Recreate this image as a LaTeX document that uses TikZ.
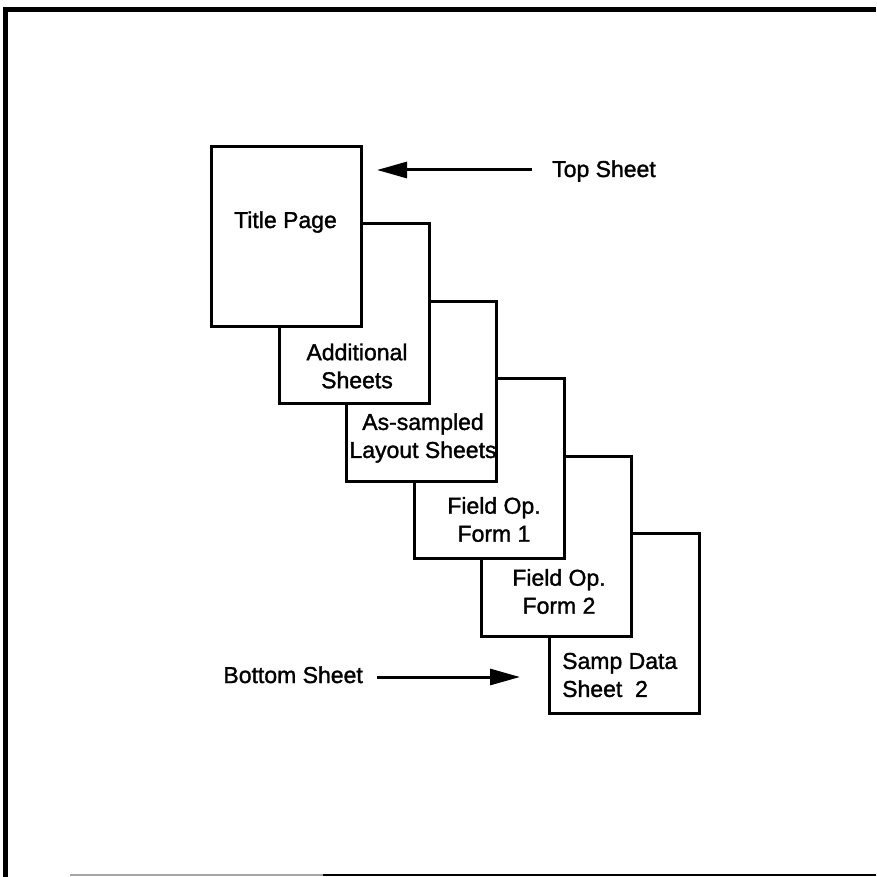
\documentclass[tikz,border=0pt]{standalone}
\usepackage{fontspec}
\setmainfont{Liberation Sans}
\newfontfamily\scanfont{Liberation Sans}[FakeBold=1.4]
\usepackage{tikz}
\usetikzlibrary{arrows.meta, positioning, calc}
\tikzset{
  % One paper sheet of the stack
  sheet/.style={
    rectangle, draw=black, line width=3pt, fill=white,
    minimum width=150pt, minimum height=180pt,
    inner sep=0pt, anchor=north west
  },
  % Text printed on a sheet
  sheetlbl/.style={
    align=center, inner sep=0pt,
    font=\scanfont\fontsize{23}{28}\selectfont
  },
  % Pointer arrows
  arr/.style={-{Triangle[length=30pt,width=16pt]}, line width=3pt},
  % Outer frame
  boxframe/.style={line width=5pt},
}

\begin{document}
\begin{tikzpicture}[x=1pt, y=-1pt]
  \useasboundingbox (0,0) rectangle (876,877);

  %% Outer frame
  \draw[boxframe] (5,877) -- (5,10) -- (876,10);
  \draw[line width=2pt, black!35] (70,875) -- (323,875);
  \draw[line width=2pt] (323,875) -- (876,875);

  %% Sheets, bottom of the stack first
  \node[sheet] (samp)   at (548,532)     {};
  \node[sheet] (fop2)   at (480.4,454.6) {};
  \node[sheet] (fop1)   at (412.8,377.2) {};
  \node[sheet] (layout) at (345.2,299.8) {};
  \node[sheet] (addl)   at (277.6,222.4) {};
  \node[sheet] (title)  at (210,145)     {};

  %% Sheet labels
  \node[sheetlbl, anchor=base] (titlelbl) at (285.5,228) {Title Page};
  \node[sheetlbl] (addllbl)   at (357,366)   {Additional\\Sheets};
  \node[sheetlbl] (layoutlbl) at (423,438)   {As-sampled\\Layout Sheets};
  \node[sheetlbl] (fop1lbl)   at (494,519.5) {Field Op.\\Form 1};
  \node[sheetlbl] (fop2lbl)   at (559,591.5) {Field Op.\\Form 2};
  \node[sheetlbl, align=left, anchor=west]
    (samplbl) at (562,675) {Samp Data\\Sheet\ \ 2};

  %% Top and bottom pointers
  \node[sheetlbl, anchor=base west] (toplbl) at (552,177) {Top Sheet};
  \node[sheetlbl, anchor=base east] (botlbl) at (363,683) {Bottom Sheet};
  \coordinate (toptip) at (377,170);
  \coordinate (bottip) at (520,677);

  \draw[arr, shorten <=20pt] (toplbl.west |- toptip) -- (toptip);
  \draw[arr, shorten <=14pt] (botlbl.east |- bottip) -- (bottip);

\end{tikzpicture}
\end{document}
